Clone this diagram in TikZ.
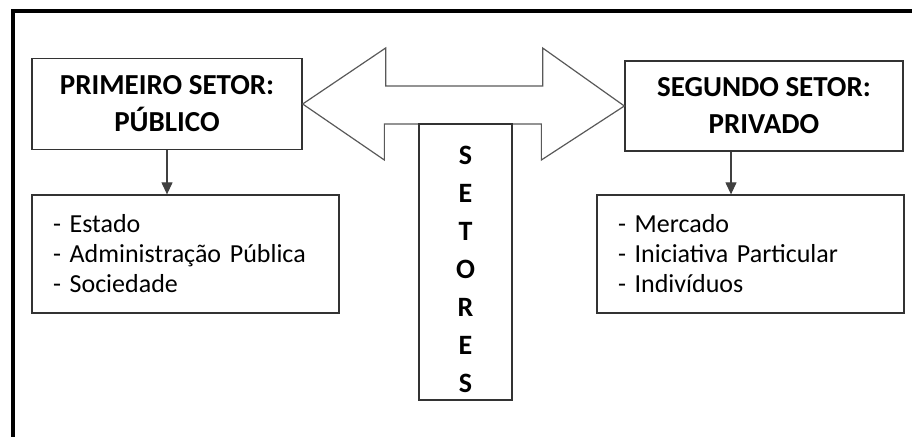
\documentclass[tikz,border=0pt]{standalone}
\usepackage{fontspec}
\setmainfont{Carlito}
\usetikzlibrary{positioning,arrows.meta}
\tikzset{
  >={Triangle[width=11pt,length=12pt]},
  setorbox/.style={rectangle, draw=black!80, line width=1.3pt, align=center,
                   font=\bfseries\fontsize{29}{37}\selectfont},
  listbox/.style={rectangle, draw=black!80, line width=1.3pt, text width=265pt,
                  inner xsep=21pt, minimum height=118pt, align=left,
                  font=\fontsize{26}{30}\selectfont},
  letter/.style={font=\bfseries\fontsize{28}{30}\selectfont, inner sep=0pt},
  bigarrow/.style={draw=black!65, line width=1.2pt, line join=miter},
  line/.style={draw, line width=1.2pt, color=black!75, ->}
}

\begin{document}
\begin{tikzpicture}[x=1pt,y=-1pt]
    \useasboundingbox (0,0) rectangle (912,436);
    % Frame
    \draw [line width=4.5pt] (13,11) rectangle (960,480);
    % Sector boxes
    \node [setorbox, minimum width=270pt, minimum height=91pt] (prim) at (167,104)
          {PRIMEIRO SETOR:\\PÚBLICO};
    \node [setorbox, minimum width=278pt, minimum height=90pt] (seg) at (764,106)
          {SEGUNDO SETOR:\\PRIVADO};
    \node [listbox] (listA) at (185.5,254)
          {- Estado\\- Administração Pública\\- Sociedade};
    \node [listbox] (listB) at (750.5,254)
          {- Mercado\\- Iniciativa Particular\\- Indivíduos};
    \draw [line] (prim.south) -- (prim.south |- listA.north);
    \draw [line] ([xshift=-33pt]seg.south) -- ([xshift=-33pt]seg.south |- listB.north);
    % Double arrow between the sectors
    \draw [bigarrow] (prim.east) -- ++(83,-56) -- ++(0,38) -- ++(157,0) -- ++(0,-38)
          -- (seg.west) -- ++(-83,54) -- ++(0,-36) -- ++(-157,0) -- ++(0,36) -- cycle;
    % Vertical label
    \node [draw=black!80, line width=1.3pt, minimum width=93pt, minimum height=276pt]
          (setores) at (465.5,262) {};
    \foreach \ch [count=\i] in {S,E,T,O,R,E,S}
        \node [letter] (l\i) at (465.5,{155+38*(\i-1)}) {\ch};
\end{tikzpicture}
\end{document}
